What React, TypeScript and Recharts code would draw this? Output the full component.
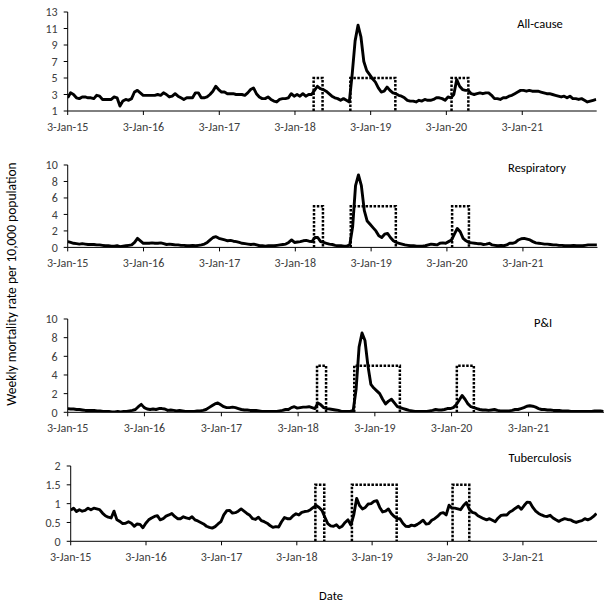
import React from "react";
import { LineChart, Line, XAxis, YAxis } from "recharts";

// Sampling step of the read-off series (days between points), starting 3-Jan-15
const SAMPLE_STEP_DAYS = 14;

const xTickDays = [0, 365, 731, 1096, 1461, 1826, 2192];
const xTickLabels = ["3-Jan-15", "3-Jan-16", "3-Jan-17", "3-Jan-18", "3-Jan-19", "3-Jan-20", "3-Jan-21"];

// Epidemic periods (days since 3-Jan-15)
const epidemicStart = [1186, 1363, 1851];
const epidemicEnd = [1229, 1580, 1932];

const allCause = [
  2.6, 3.2, 3.0, 2.6, 2.5, 2.7, 2.7, 2.6, 2.6, 2.5,
  2.9, 2.8, 2.4, 2.4, 2.4, 2.4, 2.7, 2.6, 1.6, 2.2,
  2.4, 2.3, 2.5, 3.3, 3.5, 3.2, 2.9, 2.9, 2.9, 2.9,
  2.9, 3.0, 2.9, 3.2, 3.0, 2.7, 2.8, 3.1, 2.8, 2.6,
  2.4, 2.6, 2.6, 2.6, 3.2, 3.2, 2.6, 2.6, 2.7, 3.0,
  3.4, 4.0, 3.6, 3.3, 3.3, 3.1, 3.1, 3.1, 3.0, 3.0,
  3.0, 2.9, 3.2, 3.6, 3.8, 3.1, 2.7, 2.5, 2.5, 2.7,
  2.4, 2.2, 2.1, 2.4, 2.5, 2.5, 2.6, 3.1, 2.8, 3.0,
  2.8, 3.1, 2.8, 3.0, 3.0, 3.5, 4.0, 3.7, 3.6, 3.4,
  3.1, 2.8, 2.6, 2.5, 2.3, 2.5, 2.3, 2.1, 5.5, 9.5,
  11.4, 10.0, 7.0, 5.9, 5.4, 4.9, 4.5, 3.8, 3.3, 3.4,
  3.9, 3.5, 3.2, 3.1, 2.9, 2.8, 2.6, 2.3, 2.2, 2.2,
  2.1, 2.3, 2.2, 2.4, 2.3, 2.3, 2.4, 2.6, 2.6, 2.5,
  2.3, 2.7, 2.6, 3.0, 4.8, 4.0, 3.6, 3.5, 3.5, 3.1,
  3.0, 3.1, 3.2, 3.1, 3.2, 3.2, 2.9, 2.5, 2.5, 2.4,
  2.6, 2.6, 2.8, 2.9, 3.1, 3.3, 3.5, 3.5, 3.4, 3.5,
  3.4, 3.4, 3.4, 3.3, 3.2, 3.1, 3.1, 3.0, 2.9, 2.8,
  2.7, 2.8, 2.6, 2.8, 2.5, 2.5, 2.4, 2.5, 2.3, 2.1,
  2.2, 2.3, 2.4,
];

const respiratory = [
  0.7, 0.6, 0.5, 0.45, 0.4, 0.45, 0.4, 0.35, 0.35, 0.35,
  0.3, 0.3, 0.25, 0.2, 0.2, 0.15, 0.15, 0.2, 0.1, 0.15,
  0.2, 0.25, 0.3, 0.6, 1.1, 0.8, 0.5, 0.5, 0.5, 0.55,
  0.5, 0.5, 0.55, 0.45, 0.35, 0.4, 0.35, 0.3, 0.3, 0.25,
  0.25, 0.2, 0.2, 0.25, 0.2, 0.25, 0.3, 0.4, 0.6, 0.9,
  1.2, 1.3, 1.1, 1.0, 0.9, 0.8, 0.85, 0.75, 0.7, 0.6,
  0.5, 0.45, 0.4, 0.35, 0.4, 0.3, 0.2, 0.2, 0.15, 0.2,
  0.2, 0.2, 0.25, 0.3, 0.35, 0.4, 0.6, 0.9, 0.6, 0.65,
  0.7, 0.8, 0.85, 0.75, 0.7, 1.2, 1.2, 0.7, 0.6, 0.5,
  0.4, 0.35, 0.25, 0.2, 0.2, 0.15, 0.15, 0.3, 2.5, 7.5,
  8.8, 7.5, 4.5, 3.2, 2.8, 2.4, 2.0, 1.4, 1.2, 1.6,
  1.7, 1.2, 0.8, 0.6, 0.5, 0.4, 0.3, 0.25, 0.2, 0.2,
  0.15, 0.15, 0.15, 0.2, 0.3, 0.4, 0.35, 0.3, 0.5, 0.55,
  0.5, 0.7, 0.9, 1.6, 2.3, 1.9, 1.1, 0.8, 0.6, 0.55,
  0.5, 0.45, 0.45, 0.35, 0.4, 0.5, 0.3, 0.25, 0.2, 0.25,
  0.2, 0.3, 0.5, 0.5, 0.6, 0.9, 1.05, 1.1, 1.0, 0.9,
  0.7, 0.55, 0.5, 0.45, 0.4, 0.4, 0.35, 0.3, 0.3, 0.25,
  0.25, 0.2, 0.2, 0.2, 0.25, 0.2, 0.2, 0.2, 0.25, 0.3,
  0.3, 0.3, 0.3,
];

const pAndI = [
  0.4, 0.35, 0.35, 0.3, 0.3, 0.25, 0.2, 0.2, 0.2, 0.2,
  0.15, 0.15, 0.1, 0.1, 0.1, 0.05, 0.05, 0.1, 0.05, 0.1,
  0.1, 0.15, 0.2, 0.3, 0.6, 0.85, 0.5, 0.35, 0.3, 0.35,
  0.3, 0.4, 0.4, 0.35, 0.2, 0.25, 0.2, 0.15, 0.2, 0.15,
  0.1, 0.1, 0.1, 0.1, 0.15, 0.15, 0.2, 0.3, 0.5, 0.7,
  0.9, 1.0, 0.8, 0.6, 0.5, 0.5, 0.55, 0.5, 0.4, 0.3,
  0.25, 0.25, 0.2, 0.2, 0.2, 0.15, 0.1, 0.1, 0.1, 0.1,
  0.1, 0.1, 0.15, 0.2, 0.3, 0.3, 0.5, 0.6, 0.45, 0.5,
  0.55, 0.55, 0.6, 0.5, 0.4, 1.0, 0.8, 0.5, 0.4, 0.35,
  0.3, 0.25, 0.2, 0.1, 0.1, 0.1, 0.1, 0.2, 2.5, 7.0,
  8.5, 7.7, 5.0, 3.0, 2.6, 2.3, 2.0, 1.4, 0.9, 1.2,
  1.4, 1.0, 0.6, 0.5, 0.4, 0.3, 0.2, 0.15, 0.1, 0.1,
  0.1, 0.1, 0.1, 0.15, 0.2, 0.3, 0.25, 0.25, 0.3, 0.4,
  0.4, 0.5, 0.8, 1.3, 1.8, 1.4, 0.9, 0.6, 0.5, 0.4,
  0.3, 0.25, 0.25, 0.2, 0.25, 0.3, 0.2, 0.15, 0.15, 0.15,
  0.15, 0.2, 0.3, 0.3, 0.4, 0.5, 0.65, 0.7, 0.65, 0.55,
  0.4, 0.3, 0.3, 0.25, 0.25, 0.2, 0.2, 0.2, 0.15, 0.15,
  0.15, 0.1, 0.1, 0.1, 0.1, 0.1, 0.1, 0.1, 0.1, 0.15,
  0.15, 0.15, 0.1,
];

const tuberculosis = [
  0.83, 0.88, 0.79, 0.84, 0.8, 0.82, 0.88, 0.84, 0.88, 0.86,
  0.84, 0.75, 0.68, 0.64, 0.62, 0.8, 0.57, 0.53, 0.47, 0.48,
  0.52, 0.48, 0.4, 0.46, 0.45, 0.36, 0.48, 0.57, 0.62, 0.66,
  0.68, 0.57, 0.6, 0.67, 0.7, 0.74, 0.66, 0.6, 0.6, 0.65,
  0.62, 0.6, 0.65, 0.57, 0.54, 0.5, 0.46, 0.4, 0.37, 0.35,
  0.39, 0.46, 0.52, 0.7, 0.81, 0.82, 0.75, 0.76, 0.8, 0.86,
  0.8, 0.74, 0.69, 0.6, 0.58, 0.64, 0.55, 0.52, 0.48, 0.42,
  0.37, 0.39, 0.38, 0.52, 0.63, 0.6, 0.6, 0.68, 0.73, 0.7,
  0.77, 0.79, 0.8, 0.84, 0.9, 0.95, 0.9, 0.82, 0.64, 0.47,
  0.41, 0.4, 0.44, 0.36, 0.4, 0.5, 0.57, 0.43, 0.7, 1.14,
  0.95, 0.86, 0.9, 0.99, 1.0, 1.06, 1.08, 0.9, 0.78, 0.8,
  0.86, 0.74, 0.66, 0.6, 0.6, 0.48, 0.4, 0.39, 0.43, 0.41,
  0.45, 0.5, 0.56, 0.46, 0.47, 0.56, 0.6, 0.66, 0.74, 0.76,
  0.7, 0.96, 0.88, 0.88, 0.86, 0.84, 0.95, 1.03, 0.85, 0.77,
  0.75, 0.68, 0.64, 0.6, 0.57, 0.6, 0.56, 0.52, 0.62, 0.69,
  0.7, 0.7, 0.78, 0.82, 0.88, 0.93, 0.85, 0.95, 1.04, 1.03,
  0.9, 0.8, 0.74, 0.7, 0.67, 0.66, 0.69, 0.62, 0.57, 0.53,
  0.57, 0.6, 0.58, 0.57, 0.53, 0.5, 0.53, 0.55, 0.6, 0.57,
  0.6, 0.66, 0.74,
];

const panelTitles = ["All-cause", "Respiratory", "P&I", "Tuberculosis"];
const panelSeries = [allCause, respiratory, pAndI, tuberculosis];
const yTicksList = [
  [1, 3, 5, 7, 9, 11, 13],
  [0, 2, 4, 6, 8, 10],
  [0, 2, 4, 6, 8, 10],
  [0, 0.5, 1, 1.5, 2],
];
const epidemicLevel = [5, 5, 5, 1.5];

// layout (page pixels)
const layouts = [
  { left: 67.7, right: 596.7, top: 11.5, bottom: 110.5, titleX: 540, titleY: 24 },
  { left: 67.7, right: 597.5, top: 165.3, bottom: 247.7, titleX: 537, titleY: 168 },
  { left: 67.7, right: 604, top: 319, bottom: 412.3, titleX: 543, titleY: 323 },
  { left: 70.7, right: 597, top: 466, bottom: 541.3, titleX: 540, titleY: 458 },
];

const FONT = "Carlito, Calibri, Lato, sans-serif";
const X_MAX = 2551;

function Panel({ idx }: { idx: number }) {
  const L = layouts[idx];
  const ticks = yTicksList[idx];
  const base = ticks[0];
  const top = ticks[ticks.length - 1];
  const series = panelSeries[idx].map((v, i) => ({ day: i * SAMPLE_STEP_DAYS, v }));
  const pulse: { day: number; p: number | null }[] = [];
  epidemicStart.forEach((s, k) => {
    const e = epidemicEnd[k];
    if (k > 0) pulse.push({ day: (epidemicEnd[k - 1] + s) / 2, p: null });
    pulse.push({ day: s, p: base });
    pulse.push({ day: s, p: epidemicLevel[idx] });
    pulse.push({ day: e, p: epidemicLevel[idx] });
    pulse.push({ day: e, p: base });
  });
  const padTop = 10;
  const xAxisH = 30;
  const h = L.bottom - L.top + padTop + xAxisH;
  return (
    <div style={{ position: "absolute", left: 0, top: L.top - padTop, width: 614, height: h }}>
      <LineChart
        width={614}
        height={h}
        margin={{ top: padTop, right: 614 - L.right, bottom: 0, left: 0 }}
      >
        <XAxis
          dataKey="day"
          type="number"
          domain={[0, X_MAX]}
          ticks={xTickDays}
          tickFormatter={(d: number) => xTickLabels[xTickDays.indexOf(d)]}
          height={xAxisH}
          allowDataOverflow
          axisLine={{ stroke: "#000", strokeWidth: 1 }}
          tickLine={{ stroke: "#000" }}
          tickSize={4}
          tickMargin={7}
          tick={{ fill: "#404040", fontSize: 12, fontFamily: FONT }}
          interval={0}
        />
        <YAxis
          type="number"
          domain={[base, top]}
          ticks={ticks}
          width={L.left}
          allowDataOverflow
          axisLine={{ stroke: "#000", strokeWidth: 1 }}
          tickLine={{ stroke: "#000" }}
          tickSize={4}
          tickMargin={6}
          tick={{ fill: "#404040", fontSize: 12, fontFamily: FONT }}
          interval={0}
        />
        <Line
          data={pulse}
          dataKey="p"
          type="linear"
          stroke="#000"
          strokeWidth={2.5}
          strokeDasharray="2.5 1.5"
          dot={false}
          isAnimationActive={false}
          connectNulls={false}
        />
        <Line
          data={series}
          dataKey="v"
          type="linear"
          stroke="#000"
          strokeWidth={2.9}
          strokeLinejoin="round"
          dot={false}
          isAnimationActive={false}
        />
      </LineChart>
      <div
        style={{
          position: "absolute",
          left: L.titleX - 60,
          width: 120,
          top: L.titleY - L.top + padTop - 8,
          textAlign: "center",
          fontFamily: FONT,
          fontSize: 12.5,
          color: "#000",
          lineHeight: "16px",
        }}
      >
        {panelTitles[idx]}
      </div>
    </div>
  );
}

export default function App() {
  return (
    <div style={{ position: "absolute", left: 0, top: 0, width: 614, height: 607, background: "#fff", overflow: "hidden" }}>
      {[0, 1, 2, 3].map((i) => (
        <Panel key={i} idx={i} />
      ))}
      <div
        style={{
          position: "absolute",
          left: 12 - 200,
          top: 284 - 9,
          width: 400,
          height: 18,
          lineHeight: "18px",
          textAlign: "center",
          transform: "rotate(-90deg)",
          fontFamily: FONT,
          fontSize: 13.5,
          color: "#000",
          whiteSpace: "nowrap",
        }}
      >
        Weekly mortality rate per 10,000 population
      </div>
      <div
        style={{
          position: "absolute",
          left: 331 - 50,
          width: 100,
          top: 596 - 8,
          lineHeight: "16px",
          textAlign: "center",
          fontFamily: FONT,
          fontSize: 12.5,
          color: "#000",
        }}
      >
        Date
      </div>
    </div>
  );
}
